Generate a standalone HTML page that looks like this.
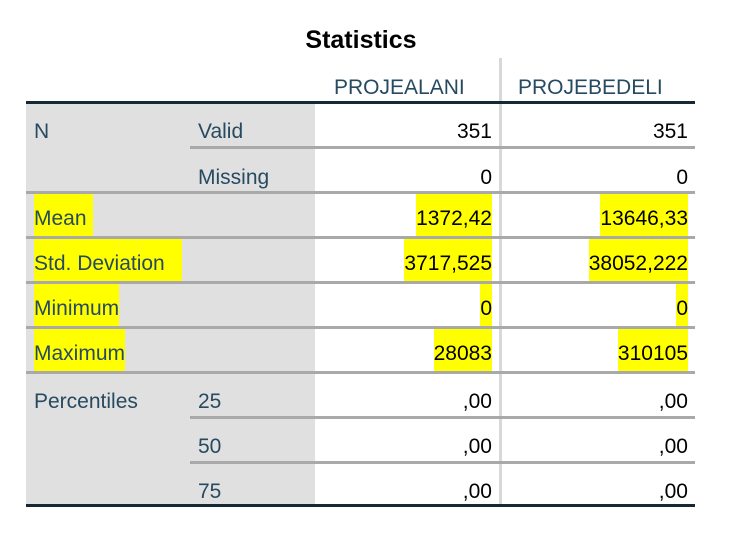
<!DOCTYPE html>
<html><head><meta charset="utf-8"><style>
body{margin:0;width:730px;height:536px;background:#fff;position:relative;overflow:hidden;font-family:"Liberation Sans",Arial,sans-serif}
.a{position:absolute}
.t{position:absolute;font-size:21px;line-height:44px;height:44px;color:#264a60}
.v{position:absolute;font-size:21px;line-height:44px;height:44px;color:#000;text-align:right}
.hl{background:#ffff00}
.line{position:absolute;height:3px;background:#a9a9a9}
</style></head><body>
<div class="a" style="left:0;width:722px;top:26px;text-align:center;font-size:25px;font-weight:bold;color:#000">Statistics</div>
<div class="a" style="left:26px;top:104px;width:289px;height:400px;background:#e0e0e0"></div>
<div class="a" style="left:499px;top:58px;width:3px;height:448px;background:#d8d8d8"></div>
<div class="t" style="left:334px;top:66px">PROJEALANI</div>
<div class="t" style="left:518px;top:66px">PROJEBEDELI</div>
<div class="a" style="left:26px;top:101px;width:669px;height:3px;background:#152935"></div>
<div class="a" style="left:26px;top:504px;width:669px;height:3px;background:#152935"></div>

<div class="line" style="left:190px;top:146px;width:505px"></div>
<div class="line" style="left:26px;top:191px;width:669px"></div>
<div class="line" style="left:26px;top:236px;width:669px"></div>
<div class="line" style="left:26px;top:281px;width:669px"></div>
<div class="line" style="left:26px;top:326px;width:669px"></div>
<div class="line" style="left:26px;top:371px;width:669px"></div>
<div class="line" style="left:190px;top:416px;width:505px"></div>
<div class="line" style="left:190px;top:461px;width:505px"></div>

<div class="t" style="left:34px;top:110px">N</div>
<div class="t" style="left:198px;top:110px">Valid</div>
<div class="t" style="left:198px;top:156px">Missing</div>
<div class="t hl" style="left:34px;top:194px;height:42px;line-height:50px;width:59px">Mean</div>
<div class="t hl" style="left:34px;top:239px;height:42px;line-height:50px;width:148px">Std. Deviation</div>
<div class="t hl" style="left:34px;top:284px;height:42px;line-height:50px">Minimum</div>
<div class="t hl" style="left:34px;top:329px;height:42px;line-height:50px">Maximum</div>
<div class="t" style="left:34px;top:380px">Percentiles</div>
<div class="t" style="left:198px;top:380px">25</div>
<div class="t" style="left:198px;top:425px">50</div>
<div class="t" style="left:198px;top:470px">75</div>

<div class="v" style="right:238px;top:110px">351</div>
<div class="v" style="right:42px;top:110px">351</div>
<div class="v" style="right:238px;top:156px">0</div>
<div class="v" style="right:42px;top:156px">0</div>
<div class="v hl" style="right:238px;top:194px;height:42px;line-height:50px">1372,42</div>
<div class="v hl" style="right:42px;top:194px;height:42px;line-height:50px">13646,33</div>
<div class="v hl" style="right:238px;top:239px;height:42px;line-height:50px">3717,525</div>
<div class="v hl" style="right:42px;top:239px;height:42px;line-height:50px">38052,222</div>
<div class="v hl" style="right:238px;top:284px;height:42px;line-height:50px">0</div>
<div class="v hl" style="right:42px;top:284px;height:42px;line-height:50px">0</div>
<div class="v hl" style="right:238px;top:329px;height:42px;line-height:50px">28083</div>
<div class="v hl" style="right:42px;top:329px;height:42px;line-height:50px">310105</div>
<div class="v" style="right:238px;top:380px">,00</div>
<div class="v" style="right:42px;top:380px">,00</div>
<div class="v" style="right:238px;top:425px">,00</div>
<div class="v" style="right:42px;top:425px">,00</div>
<div class="v" style="right:238px;top:470px">,00</div>
<div class="v" style="right:42px;top:470px">,00</div>
</body></html>
